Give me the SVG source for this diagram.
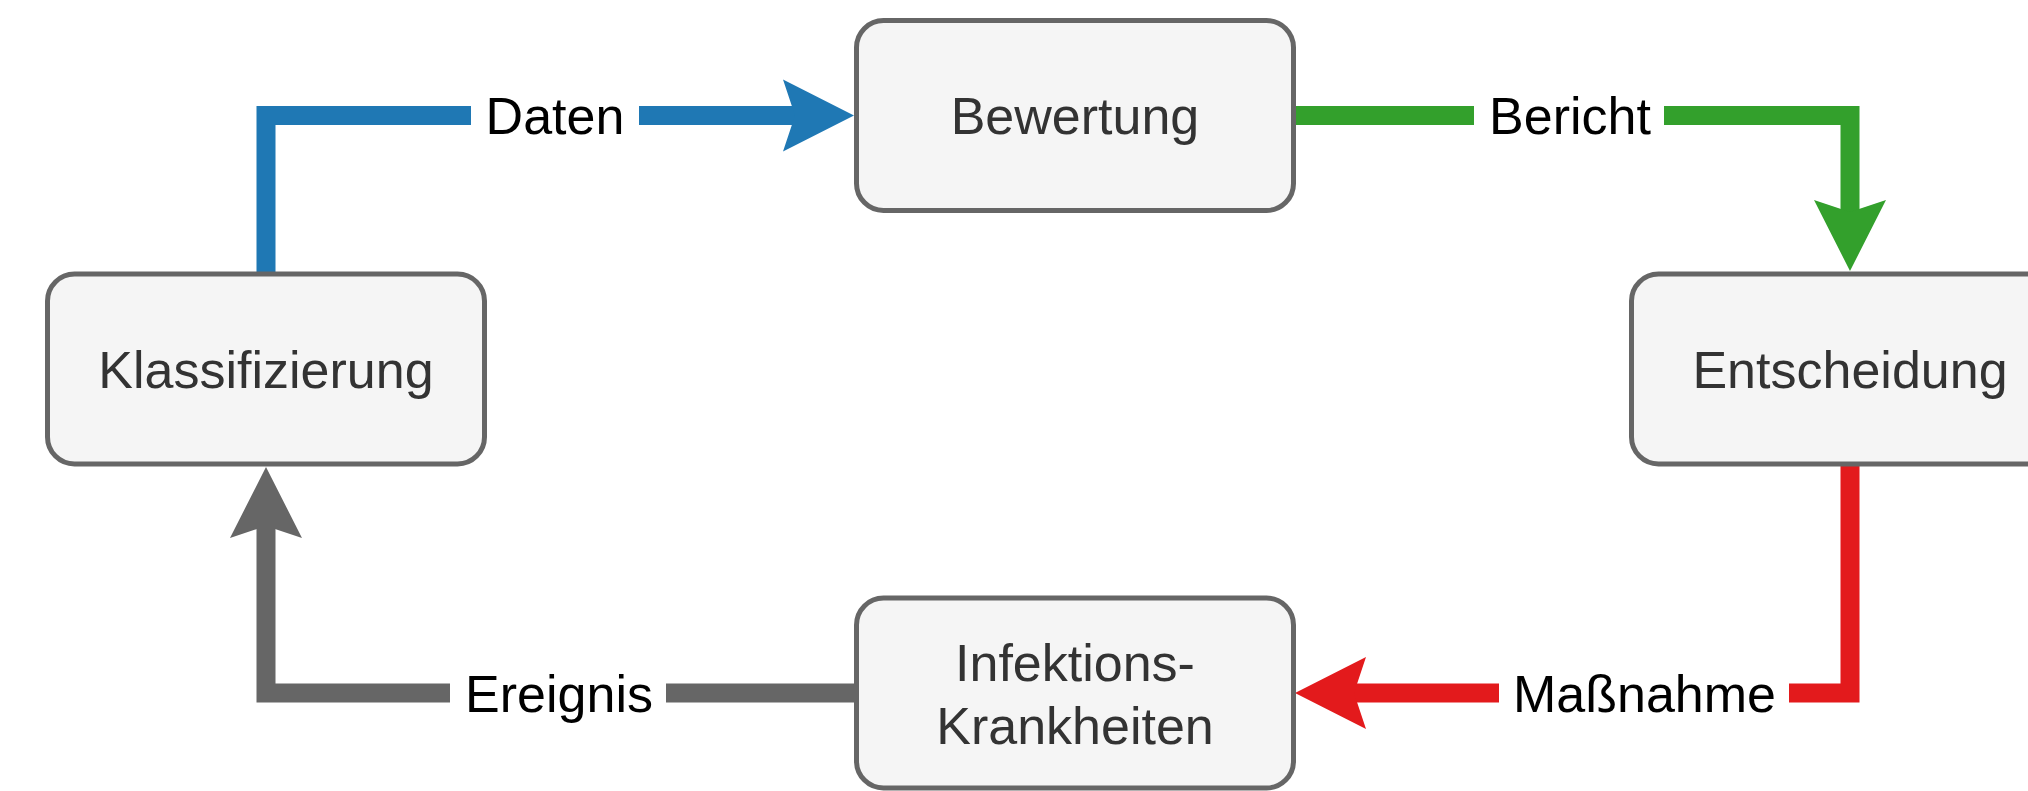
<svg xmlns="http://www.w3.org/2000/svg" width="2028" height="791" viewBox="0 0 2028 791">
<style>
.node rect{fill:#f5f5f5;stroke:#666666;stroke-width:5}
.node text{font-family:"Liberation Sans",Arial,sans-serif;font-size:52px;fill:#333333;text-anchor:middle}
.edge{fill:none;stroke-width:19;stroke-linejoin:miter;stroke-linecap:butt}
.lbl{font-family:"Liberation Sans",Arial,sans-serif;font-size:52px;fill:#000000;text-anchor:middle}
.bg{fill:#ffffff}
</style>
<defs>
<marker id="aBlue" markerUnits="userSpaceOnUse" viewBox="-72 -37 74 74" markerWidth="74" markerHeight="74" refX="-59" refY="0" orient="auto"><path d="M0,0 L-71,-36 L-59,0 L-71,36 Z" fill="#1f78b4"/></marker>
<marker id="aGreen" markerUnits="userSpaceOnUse" viewBox="-72 -37 74 74" markerWidth="74" markerHeight="74" refX="-59" refY="0" orient="auto"><path d="M0,0 L-71,-36 L-59,0 L-71,36 Z" fill="#33a02c"/></marker>
<marker id="aRed" markerUnits="userSpaceOnUse" viewBox="-72 -37 74 74" markerWidth="74" markerHeight="74" refX="-59" refY="0" orient="auto"><path d="M0,0 L-71,-36 L-59,0 L-71,36 Z" fill="#e31a1c"/></marker>
<marker id="aGrey" markerUnits="userSpaceOnUse" viewBox="-72 -37 74 74" markerWidth="74" markerHeight="74" refX="-59" refY="0" orient="auto"><path d="M0,0 L-71,-36 L-59,0 L-71,36 Z" fill="#666666"/></marker>
</defs>
<rect width="2028" height="791" fill="#ffffff"/>
<g id="connectors">
<path class="edge" stroke="#1f78b4" d="M266,274 L266,115.5 L795,115.5" marker-end="url(#aBlue)"/>
<rect class="bg" x="471" y="100" width="168" height="31"/>
<text class="lbl" x="555" y="134">Daten</text>
<path class="edge" stroke="#33a02c" d="M1294,115.5 L1850,115.5 L1850,212" marker-end="url(#aGreen)"/>
<rect class="bg" x="1474" y="100" width="190" height="31"/>
<text class="lbl" x="1570" y="134">Bericht</text>
<path class="edge" stroke="#e31a1c" d="M1850,464 L1850,693 L1354,693" marker-end="url(#aRed)"/>
<rect class="bg" x="1499" y="677" width="290" height="32"/>
<text class="lbl" x="1644.5" y="711.5">Maßnahme</text>
<path class="edge" stroke="#666666" d="M857,693 L266,693 L266,526" marker-end="url(#aGrey)"/>
<rect class="bg" x="450" y="677" width="216" height="32"/>
<text class="lbl" x="559" y="711.5">Ereignis</text>
</g>
<g id="bewertung" class="node">
<rect x="856.5" y="20.5" width="437" height="190" rx="27" ry="27"/>
<text x="1075" y="134">Bewertung</text>
</g>
<g id="klassifizierung" class="node">
<rect x="47.5" y="274" width="437" height="190" rx="27" ry="27"/>
<text x="266" y="387.5">Klassifizierung</text>
</g>
<g id="entscheidung" class="node">
<rect x="1631.5" y="274" width="437" height="190" rx="27" ry="27"/>
<text x="1850" y="387.5">Entscheidung</text>
</g>
<g id="infektionskrankheiten" class="node">
<rect x="856.5" y="598" width="437" height="190" rx="27" ry="27"/>
<text x="1075" y="680.5">Infektions-</text>
<text x="1075" y="743.5">Krankheiten</text>
</g>
</svg>
